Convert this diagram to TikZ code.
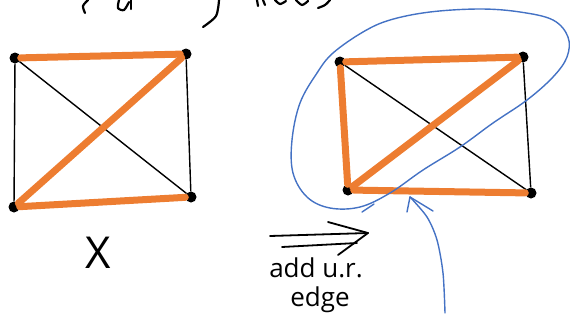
\documentclass[tikz,border=0pt]{standalone}
\usepackage{fontspec}
\setmainfont{Open Sans}
\definecolor{myorange}{HTML}{ED7D31}
\definecolor{myblue}{HTML}{4472C4}
\begin{document}
\begin{tikzpicture}[x=1pt,y=-1pt,
  vtx/.style={circle,fill=black,inner sep=0pt,minimum size=11pt},
  oedge/.style={draw=myorange,line width=7pt,line cap=round},
  kedge/.style={draw=black,line width=1.4pt},
  blueline/.style={draw=myblue,line width=1.4pt,line cap=round,line join=round},
  ink/.style={draw=black,line width=2.2pt,line cap=round,line join=round},
  hand/.style={inner sep=0pt}]
\useasboundingbox (0,0) rectangle (570,322);
% fragments of cut-off handwriting at the top
\draw[ink] plot[smooth] coordinates {(88,0) (83,6) (85,13)};
\draw[ink] plot[smooth] coordinates {(119,0) (118,8) (124,10) (129,2)};
\draw[ink] (131,0) -- (131,9);
\draw[ink] plot[smooth] coordinates {(219,0) (216,16) (203,27)};
\draw[ink] (257,0) -- (258,6);
\draw[ink] (263,0) -- (265,5);
\draw[ink] plot[smooth] coordinates {(275,0) (280,4) (286,1)};
\draw[ink] plot[smooth] coordinates {(296,0) (302,5) (308,1)};
\draw[ink] plot[smooth] coordinates {(330,0) (325,5) (318,8)};
% left graph
\node[vtx] (a1) at (15,58) {};
\node[vtx] (b1) at (186,54) {};
\node[vtx] (c1) at (14,207) {};
\node[vtx] (d1) at (191,197) {};
\draw[kedge] (a1) -- (c1);
\draw[kedge] (b1) -- (d1);
\draw[kedge] (a1) -- (d1);
\draw[kedge] (c1) -- (d1);
\draw[oedge] (a1) -- (b1);
\draw[oedge] (c1) -- (b1);
\draw[oedge] (c1) -- (d1);
\node[hand,font=\fontsize{44}{46}\selectfont] (xlab) at (98,253) {X};
% right graph
\node[vtx] (a2) at (340,62) {};
\node[vtx] (b2) at (523,57) {};
\node[vtx] (c2) at (348,190) {};
\node[vtx] (d2) at (531,193) {};
\draw[kedge] (a2) -- (d2);
\draw[kedge] (b2) -- (d2);
\draw[oedge] (a2) -- (b2);
\draw[oedge] (a2) -- (c2);
\draw[oedge] (c2) -- (b2);
\draw[oedge] (c2) -- (d2);
% blue loop around the orange part
\draw[blueline] plot[smooth cycle,tension=0.6] coordinates {(333,53) (363,32) (390,20) (430,12) (480,9) (520,12) (553,20) (568,37) (567,57) (553,77) (527,100) (493,123) (460,147) (423,170) (390,193) (360,207) (330,208) (307,197) (293,173) (292,140) (300,103) (317,73)};
\draw[blueline] (362,212) -- (374,204);
% blue pointer
\coordinate (tip) at (410,197);
\coordinate (tail) at (445,313);
\draw[blueline] plot[smooth] coordinates {(445,313) (443,273) (437,240) (427,217) (410,197)};
\draw[blueline] (tip) -- (407,212);
\draw[blueline] (tip) -- (433,211);
% double arrow and label
\coordinate (h) at (368,233);
\draw[ink,line width=1.8pt] (270,236) -- (h);
\draw[ink,line width=1.8pt] (282,247) -- (357,243);
\draw[ink,line width=1.8pt] (328,222) -- (h) -- (338,255);
\node[hand,font=\fontsize{26}{28}\selectfont] (lab1) at (316,268) {add u.r.};
\node[hand,font=\fontsize{26}{28}\selectfont] (lab2) at (320,300) {edge};
\end{tikzpicture}
\end{document}
